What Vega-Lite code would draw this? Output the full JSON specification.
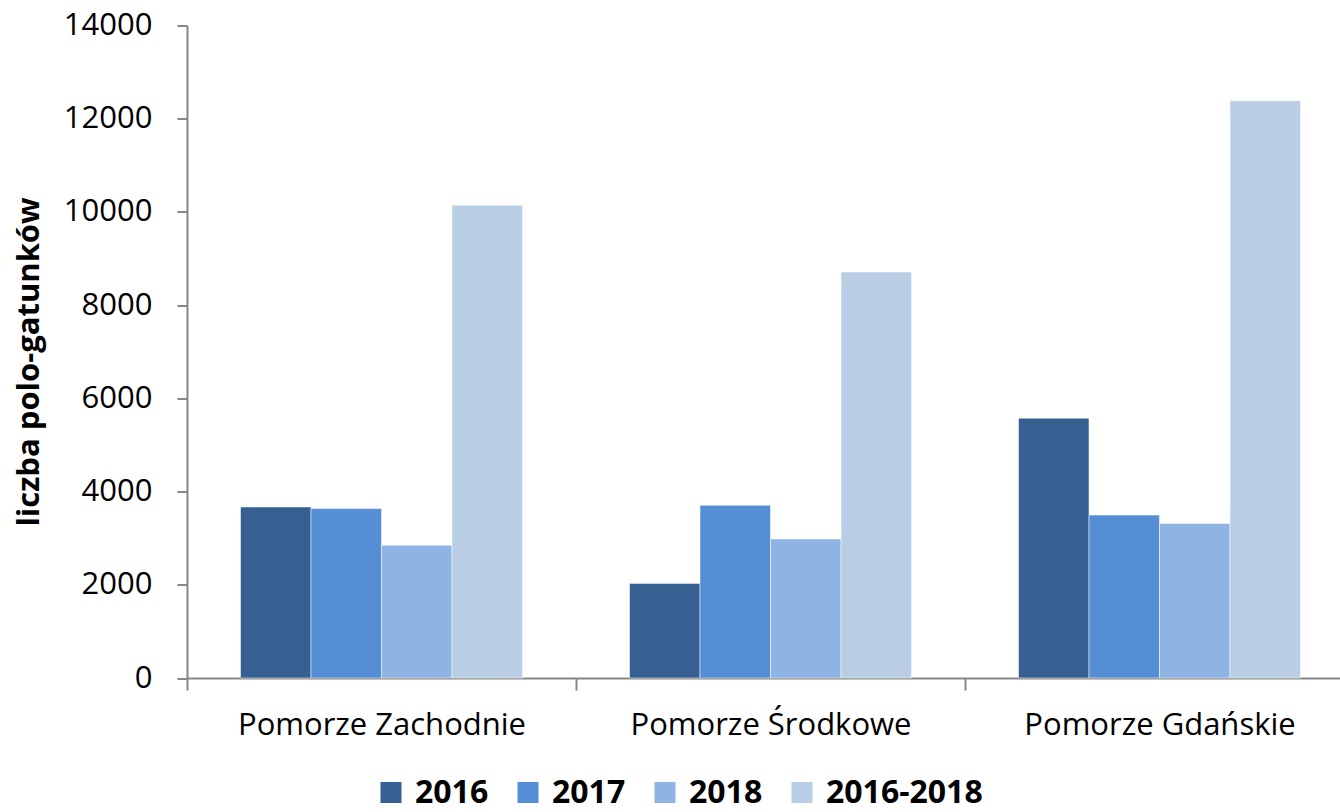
{
  "$schema": "https://vega.github.io/schema/vega-lite/v6.json",
  "autosize": "none",
  "width": 1167,
  "height": 652.5,
  "padding": {"left": 187, "top": 25.5, "right": 0, "bottom": 134},
  "background": "white",
  "data": {
    "values": [
      {"region": "Pomorze Zachodnie", "period": "2016", "count": 3670},
      {"region": "Pomorze Zachodnie", "period": "2017", "count": 3635},
      {"region": "Pomorze Zachodnie", "period": "2018", "count": 2850},
      {"region": "Pomorze Zachodnie", "period": "2016-2018", "count": 10145},
      {"region": "Pomorze Środkowe", "period": "2016", "count": 2030},
      {"region": "Pomorze Środkowe", "period": "2017", "count": 3705},
      {"region": "Pomorze Środkowe", "period": "2018", "count": 2985},
      {"region": "Pomorze Środkowe", "period": "2016-2018", "count": 8710},
      {"region": "Pomorze Gdańskie", "period": "2016", "count": 5575},
      {"region": "Pomorze Gdańskie", "period": "2017", "count": 3495},
      {"region": "Pomorze Gdańskie", "period": "2018", "count": 3315},
      {"region": "Pomorze Gdańskie", "period": "2016-2018", "count": 12385}
    ]
  },
  "mark": {"type": "bar", "stroke": "#ffffff", "strokeOpacity": 0.5, "strokeWidth": 1},
  "encoding": {
    "x": {
      "field": "region",
      "type": "nominal",
      "sort": ["Pomorze Zachodnie", "Pomorze Środkowe", "Pomorze Gdańskie"],
      "scale": {"paddingInner": 0, "paddingOuter": 0},
      "axis": {
        "title": null,
        "labelAngle": 0,
        "labelFont": "Open Sans",
        "labelFontSize": 31,
        "labelColor": "#000000",
        "labelPadding": 20,
        "labelBaseline": "top",
        "labelLimit": 0,
        "tickBand": "extent",
        "tickSize": 12,
        "tickWidth": 2,
        "tickColor": "#868686",
        "domainColor": "#868686",
        "domainWidth": 2
      }
    },
    "xOffset": {
      "field": "period",
      "type": "nominal",
      "sort": ["2016", "2017", "2018", "2016-2018"],
      "scale": {"paddingInner": 0, "paddingOuter": 0.759}
    },
    "y": {
      "field": "count",
      "type": "quantitative",
      "scale": {"domain": [0, 14000], "nice": false},
      "axis": {
        "values": [0, 2000, 4000, 6000, 8000, 10000, 12000, 14000],
        "grid": false,
        "format": "d",
        "labelFont": "Open Sans",
        "labelFontSize": 31,
        "labelColor": "#000000",
        "labelPadding": 25,
        "tickSize": 10,
        "tickWidth": 2,
        "tickColor": "#868686",
        "domainColor": "#868686",
        "domainWidth": 2,
        "title": "liczba polo-gatunków",
        "titleFont": "Open Sans",
        "titleFontSize": 31,
        "titleFontWeight": "bold",
        "titleColor": "#000000",
        "titleAngle": -90,
        "titleX": -158,
        "titleY": 336,
        "titleAlign": "center",
        "titleBaseline": "middle"
      }
    },
    "color": {
      "field": "period",
      "type": "nominal",
      "sort": ["2016", "2017", "2018", "2016-2018"],
      "scale": {
        "domain": ["2016", "2017", "2018", "2016-2018"],
        "range": ["#366092", "#558ED5", "#8EB4E3", "#B9CDE5"]
      },
      "legend": {
        "title": null,
        "orient": "none",
        "direction": "horizontal",
        "legendX": 188,
        "legendY": 751,
        "symbolType": "square",
        "symbolSize": 441,
        "symbolStrokeWidth": 0,
        "labelFont": "Open Sans",
        "labelFontSize": 32,
        "labelFontWeight": "bold",
        "labelColor": "#000000",
        "labelOffset": 8,
        "columnPadding": 23,
        "padding": 0
      }
    }
  },
  "config": {"view": {"stroke": null}}
}
